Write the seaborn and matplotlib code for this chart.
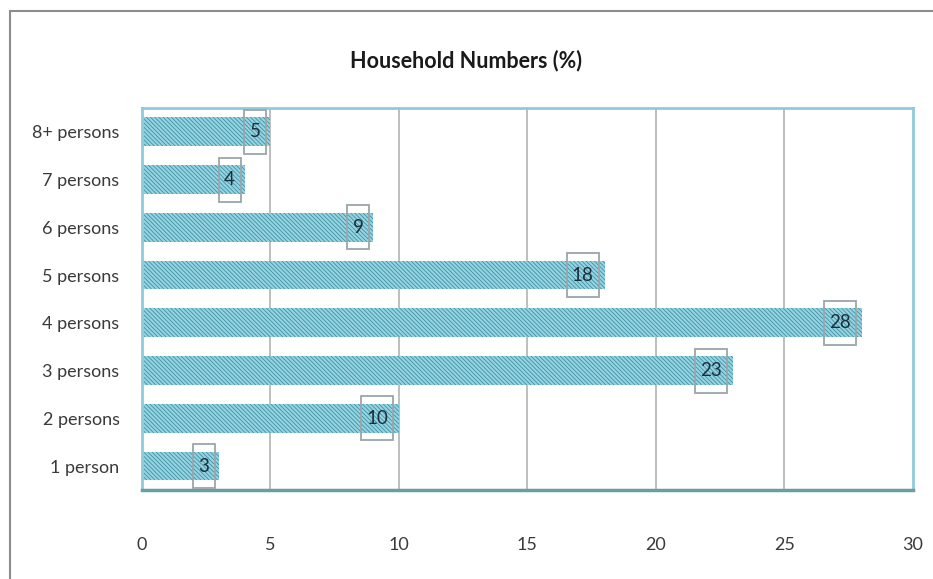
import matplotlib
matplotlib.use("Agg")
import matplotlib.pyplot as plt
from matplotlib.patches import Rectangle
from matplotlib.lines import Line2D
import seaborn as sns
import pandas as pd

# Share of households by household size (%)
categories = ["8+ persons", "7 persons", "6 persons", "5 persons",
              "4 persons", "3 persons", "2 persons", "1 person"]
values = [5, 4, 9, 18, 28, 23, 10, 3]
x_ticks = [0, 5, 10, 15, 20, 25, 30]
title = "Household Numbers (%)"

df = pd.DataFrame({"size": categories, "share": values})

sns.set_theme(style="white")
plt.rcParams["font.family"] = ["Lato", "DejaVu Sans"]
plt.rcParams["hatch.linewidth"] = 0.55

fig = plt.figure(figsize=(9.33, 5.79), dpi=100)
ax = fig.add_axes([0.152, 0.1537, 0.8266, 0.66])

bar_face = "#93d4e2"
hatch_col = "#3f8a9c"
sns.barplot(data=df, x="share", y="size", order=categories, orient="h",
            color=bar_face, width=0.6, saturation=1, ax=ax)
for bar in ax.patches:
    bar.set_hatch("\\" * 8)
    bar.set_edgecolor(hatch_col)
    bar.set_linewidth(0)
    bar.set_zorder(2)

ax.set_xlim(0, 30)
ax.set_ylim(len(categories) - 0.5, -0.5)
ax.set_xticks(x_ticks)
ax.set_xticklabels([str(t) for t in x_ticks])
ax.set_xlabel("")
ax.set_ylabel("")

# vertical gridlines
for t in x_ticks[1:-1]:
    ax.axvline(t, color="#b3b3b3", lw=1.2, zorder=1)

for side in ["top", "left", "right"]:
    ax.spines[side].set_color("#8fcbdb")
    ax.spines[side].set_linewidth(2)
ax.spines["bottom"].set_color("#6a9ea6")
ax.spines["bottom"].set_linewidth(2.5)

ax.tick_params(axis="x", length=0, pad=34, labelsize=13, labelcolor="#3a3a3a")
ax.tick_params(axis="y", length=0, pad=16, labelsize=13, labelcolor="#3a3a3a")

fig.text(0.5, 0.896, title, ha="center", va="center", fontsize=15.5,
         fontweight="bold", color="#1a1a1a")

# value labels with boxed frames near the bar ends
fig.canvas.draw()
to_disp = ax.transData
to_data = ax.transData.inverted()
for i, v in enumerate(values):
    label = str(v)
    dx = -22 if len(label) > 1 else -15
    w = 32 if len(label) > 1 else 22
    h = 44
    cx, cy = to_disp.transform((v, i))
    cx += dx
    (x0, y0) = to_data.transform((cx - w / 2, cy - h / 2))
    (x1, y1) = to_data.transform((cx + w / 2, cy + h / 2))
    ax.add_patch(Rectangle((x0, y0), x1 - x0, y1 - y0, fill=False,
                           edgecolor="#9aa6ab", lw=1.3, zorder=3,
                           clip_on=False))
    tx, ty = to_data.transform((cx, cy))
    ax.text(tx, ty, label, ha="center", va="center", fontsize=13.5,
            color="#1f2d3a", zorder=4)

# outer chart frame
fig.add_artist(Line2D([0.011, 0.011], [0.0, 0.981], transform=fig.transFigure,
                      color="#8c8c8c", lw=1.5))
fig.add_artist(Line2D([0.011, 1.0], [0.981, 0.981], transform=fig.transFigure,
                      color="#8c8c8c", lw=1.5))

fig.savefig("out.png", dpi=100)
